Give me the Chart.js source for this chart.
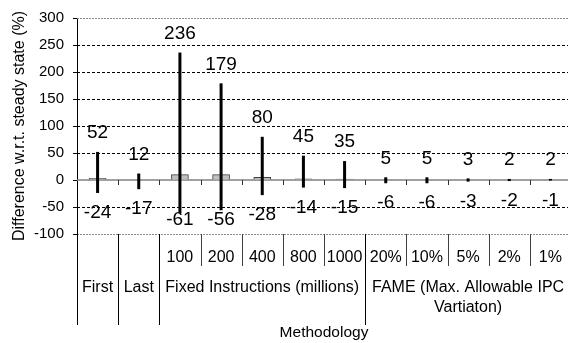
<!DOCTYPE html>
<html>
<head>
<meta charset="utf-8">
<script src="https://cdn.jsdelivr.net/npm/chart.js@4/dist/chart.umd.min.js"></script>
<style>
  html, body { margin: 0; padding: 0; background: #fff; overflow: hidden; }
  #wrap { width: 568px; height: 343px; overflow: hidden; }
</style>
</head>
<body>
<div id="wrap"><canvas id="methodChart" width="571" height="343"></canvas></div>
<script>
// categories, one per bar
var categories = ['First', 'Last', '100', '200', '400', '800', '1000', '20%', '10%', '5%', '2%', '1%'];
// second level of the category axis
var groupLabels = [['First'], ['Last'], ['Fixed Instructions (millions)'], ['FAME (Max. Allowable IPC', 'Vartiaton)']];
var groupSizes = [1, 1, 5, 5];
// average difference (bars) and the spread around it
var avgValues = [3, 0, 10, 10, 5, 2, 1.5, 0, 0, 0, 0, 0];
var maxValues = [52, 12, 236, 179, 80, 45, 35, 5, 5, 3, 2, 2];
var minValues = [-24, -17, -61, -56, -28, -14, -15, -6, -6, -3, -2, -1];
var yTicks = [-100, -50, 0, 50, 100, 150, 200, 250, 300];

var fontFamily = '"Liberation Sans", Arial, Helvetica, sans-serif';

function crisp(v) {
    return Math.round(v) + 0.5;
}

// gridlines, zero axis, min/max lines and the two level category axis
var methodologyAxis = {
    id: 'methodologyAxis',
    beforeDatasetsDraw: function(chart) {
        var ctx = chart.ctx;
        var area = chart.chartArea;
        var y = chart.scales.y;
        var x = chart.scales.x;
        ctx.save();
        ctx.lineWidth = 1;
        yTicks.forEach(function(v) {
            if (v === 0) return;
            var py = crisp(y.getPixelForValue(v));
            if (v === y.min || v === y.max) {
                ctx.strokeStyle = '#8c8c8c';
                ctx.setLineDash([2, 1]);
            } else {
                ctx.strokeStyle = '#000';
                ctx.setLineDash([3, 2]);
            }
            ctx.beginPath();
            ctx.moveTo(area.left, py);
            ctx.lineTo(area.right, py);
            ctx.stroke();
        });
        ctx.setLineDash([]);

        // zero line with small ticks between categories
        var y0 = y.getPixelForValue(0);
        ctx.strokeStyle = '#808080';
        ctx.lineWidth = 1.5;
        ctx.beginPath();
        ctx.moveTo(area.left, y0);
        ctx.lineTo(area.right, y0);
        ctx.stroke();
        var step = x.getPixelForValue(1) - x.getPixelForValue(0);
        ctx.lineWidth = 1;
        ctx.strokeStyle = '#333';
        for (var i = 1; i < categories.length; i++) {
            var px = crisp(x.getPixelForValue(i) - step / 2);
            ctx.beginPath();
            ctx.moveTo(px, y0);
            ctx.lineTo(px, y0 + 5);
            ctx.stroke();
        }
        ctx.restore();
    },
    afterDatasetsDraw: function(chart) {
        var ctx = chart.ctx;
        var area = chart.chartArea;
        var y = chart.scales.y;
        var x = chart.scales.x;
        ctx.save();

        // spread lines
        ctx.strokeStyle = '#000';
        ctx.lineWidth = 3;
        for (var i = 0; i < categories.length; i++) {
            var px = x.getPixelForValue(i);
            ctx.beginPath();
            ctx.moveTo(px, y.getPixelForValue(maxValues[i]));
            ctx.lineTo(px, y.getPixelForValue(minValues[i]));
            ctx.stroke();
        }

        // value labels above and below
        ctx.fillStyle = '#000';
        ctx.font = '19px ' + fontFamily;
        ctx.textAlign = 'center';
        ctx.textBaseline = 'middle';
        for (var i = 0; i < categories.length; i++) {
            var px = x.getPixelForValue(i);
            ctx.fillText(String(maxValues[i]), px, y.getPixelForValue(maxValues[i]) - 19);
            var low = Math.min(y.getPixelForValue(minValues[i]) + 20, area.bottom - 14);
            ctx.fillText(String(minValues[i]), px, low);
        }

        // category axis below the plot
        var step = x.getPixelForValue(1) - x.getPixelForValue(0);
        var groupEdges = [0];
        groupSizes.forEach(function(n) { groupEdges.push(groupEdges[groupEdges.length - 1] + n); });
        ctx.lineWidth = 1;
        for (var k = 0; k <= categories.length; k++) {
            var ex = crisp(x.getPixelForValue(k) - step / 2);
            var outer = groupEdges.indexOf(k) !== -1;
            ctx.strokeStyle = outer ? '#000' : '#404040';
            ctx.beginPath();
            ctx.moveTo(ex, area.bottom);
            ctx.lineTo(ex, area.bottom + (outer ? 91 : 32));
            ctx.stroke();
        }

        ctx.font = '16px ' + fontFamily;
        var start = 0;
        groupSizes.forEach(function(n, g) {
            if (n > 1) {
                for (var j = start; j < start + n; j++) {
                    ctx.fillText(categories[j], x.getPixelForValue(j), area.bottom + 23.5);
                }
            }
            var gx = (x.getPixelForValue(start) + x.getPixelForValue(start + n - 1)) / 2;
            groupLabels[g].forEach(function(line, r) {
                ctx.fillText(line, gx, area.bottom + 54 + r * 19.5);
            });
            start += n;
        });

        ctx.font = '15.5px ' + fontFamily;
        ctx.fillText('Methodology', (area.left + area.right) / 2, area.bottom + 98.5);
        ctx.restore();
    }
};

var ctx = document.getElementById('methodChart').getContext('2d');
var methodChart = new Chart(ctx, {
    type: 'bar',
    data: {
        labels: categories,
        datasets: [{
            data: avgValues,
            backgroundColor: '#c0c0c0',
            borderColor: '#404040',
            borderWidth: 1,
            barThickness: 17
        }]
    },
    options: {
        responsive: false,
        animation: false,
        devicePixelRatio: 1,
        layout: {
            padding: {top: 11, right: 0, bottom: 109, left: 0}
        },
        plugins: {
            legend: {display: false},
            tooltip: {enabled: false}
        },
        scales: {
            x: {
                display: false
            },
            y: {
                min: -100,
                max: 300,
                ticks: {
                    stepSize: 50,
                    color: '#000',
                    padding: 9,
                    font: {family: fontFamily, size: 15}
                },
                grid: {
                    drawOnChartArea: false,
                    drawTicks: true,
                    tickLength: 4,
                    tickColor: '#000'
                },
                border: {display: true, color: '#000', width: 1},
                title: {
                    display: true,
                    text: 'Difference w.r.t. steady state (%)',
                    color: '#000',
                    padding: {top: 10, bottom: 0},
                    font: {family: fontFamily, size: 16}
                },
                afterFit: function(scale) {
                    scale.width = 77;
                }
            }
        }
    },
    plugins: [methodologyAxis]
});
</script>
</body>
</html>
